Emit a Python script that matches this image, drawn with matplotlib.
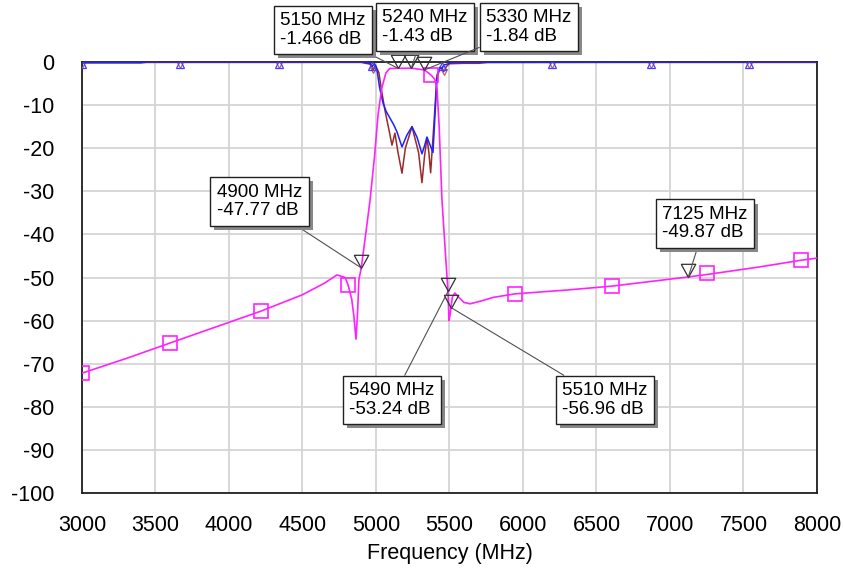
import matplotlib
matplotlib.use('Agg')
import matplotlib.pyplot as plt
import matplotlib.patheffects as pe

plt.rcParams['font.family'] = ['Liberation Sans', 'DejaVu Sans']
plt.rcParams['axes.unicode_minus'] = False

# --- data -------------------------------------------------------
# magenta trace (transmission)
f_mag = [3000, 3300, 3599, 3900, 4218, 4500, 4650, 4735, 4790, 4810, 4835, 4850,
         4864, 4875, 4884, 4900, 4930, 4960, 4990, 5015, 5040, 5068, 5095, 5150,
         5240, 5330, 5374, 5400, 5415, 5430, 5449, 5470, 5490, 5497, 5505, 5510,
         5520, 5537, 5560, 5600, 5640, 5700, 5800, 5946, 6300, 6605, 7125, 7252,
         7600, 7891, 8000]
db_mag = [-72.2, -68.8, -65.2, -61.6, -57.8, -54.0, -51.3, -49.4, -50.0, -51.7, -55.0, -59.0,
          -64.3, -58.0, -50.5, -47.77, -40.0, -32.0, -22.0, -12.0, -6.0, -2.5, -1.5, -1.466,
          -1.43, -1.84, -3.0, -4.0, -6.0, -15.0, -32.0, -43.0, -53.24, -60.0, -58.5, -56.96,
          -54.5, -53.6, -54.5, -55.8, -56.1, -55.6, -54.6, -53.8, -52.9, -52.0, -49.87, -49.3,
          -47.6, -46.0, -45.5]
f_mag_mk = [3000, 3599, 4218, 4810, 5374, 5946, 6605, 7252, 7891]
db_mag_mk = [-72.2, -65.2, -57.8, -51.7, -3.0, -53.8, -52.0, -49.0, -46.0]

# blue trace (input reflection)
f_blue = [3000, 3400, 3450, 4900, 4960, 4975, 4990, 5000, 5010, 5025, 5048, 5070,
          5095, 5120, 5143, 5177, 5210, 5245, 5280, 5313, 5330, 5347, 5365, 5388,
          5401, 5415, 5435, 5450, 5460, 5483, 5520, 8000]
db_blue = [-0.2, -0.2, 0.0, 0.0, -0.3, -1.0, -0.4, -1.0, -2.5, -6.0, -9.5, -11.5,
           -13.0, -14.5, -16.2, -19.7, -17.0, -15.0, -17.5, -21.3, -19.5, -17.4, -19.0, -21.0,
           -12.7, -4.0, -1.2, -1.6, -0.7, -0.5, -0.1, 0.0]
f_blue_mk = [3000, 3667, 4340, 4973, 5452, 6197, 6871, 7537]
db_blue_mk = [-0.5, -0.5, -0.5, -0.9, -1.0, -0.5, -0.5, -0.5]

# brown trace (output reflection)
f_brown = [3000, 4900, 4960, 4980, 5000, 5020, 5040, 5060, 5090, 5109, 5129, 5150,
           5177, 5200, 5245, 5290, 5313, 5330, 5347, 5360, 5372, 5395, 5415, 5440,
           5460, 5480, 5500, 5600, 5700, 5760, 8000]
db_brown = [-0.1, -0.1, -0.5, -1.8, -1.0, -2.5, -7.0, -11.0, -16.0, -19.3, -16.5, -21.0,
            -25.8, -20.0, -15.0, -21.0, -28.0, -22.0, -17.6, -21.0, -25.7, -14.0, -3.0, -1.2,
            -2.3, -1.0, -0.4, -0.3, -0.3, -0.1, -0.1]
f_brown_mk = [3000, 3667, 4340, 4980, 5460, 6197, 6871, 7537]
db_brown_mk = [-0.8, -0.8, -0.8, -1.8, -2.3, -0.8, -0.8, -0.8]

# marker readouts
mk_f = [5150, 5240, 5330, 4900, 5490, 5510, 7125]
mk_db = [-1.466, -1.43, -1.84, -47.77, -53.24, -56.96, -49.87]
mk_txt = ['5150 MHz\n-1.466 dB', '5240 MHz\n-1.43 dB', '5330 MHz\n-1.84 dB',
          '4900 MHz\n-47.77 dB', '5490 MHz\n-53.24 dB', '5510 MHz\n-56.96 dB',
          '7125 MHz\n-49.87 dB']
# box offsets from marker, in points
mk_off = [(-54, 27.6), (9.9, 29.7), (75.2, 30.9), (-73.4, 47.8),
          (-40.3, -78.1), (110.9, -66.6), (12.0, 38.4)]

x_ticks = [3000, 3500, 4000, 4500, 5000, 5500, 6000, 6500, 7000, 7500, 8000]
y_ticks = [0, -10, -20, -30, -40, -50, -60, -70, -80, -90, -100]

# --- figure -----------------------------------------------------
fig = plt.figure(figsize=(8.45, 5.72), dpi=100)
ax = fig.add_axes([0.0970, 0.1381, 0.8698, 0.7535])

ax.plot(f_brown, db_brown, color='#9a2a2a', lw=1.1, zorder=3)
ax.plot(f_brown_mk, db_brown_mk, ls='none', marker='v', ms=4.5, mfc='none',
        mec='#c06060', mew=0.9, zorder=3)
ax.plot(f_blue, db_blue, color='#2020ff', lw=1.1, zorder=4)
ax.plot(f_blue_mk, db_blue_mk, ls='none', marker='^', ms=6, mfc='none',
        mec='#4040ff', mew=0.9, zorder=4)
ax.plot(f_mag, db_mag, color='#ff22ff', lw=1.2, zorder=5)
ax.plot(f_mag_mk, db_mag_mk, ls='none', marker='s', ms=10, mfc='none',
        mec='#ff22ff', mew=1.2, zorder=5)

# readout triangles, apex on the point
tri = [(-0.55, 1.0), (0.55, 1.0), (0.0, 0.0), (-0.55, 1.0)]
ax.plot(mk_f, mk_db, ls='none', marker=tri, ms=19, mfc='none', mec='#303030',
        mew=0.9, zorder=6, clip_on=False)

for f, d, t, off in zip(mk_f, mk_db, mk_txt, mk_off):
    a = ax.annotate(t, xy=(f, d), xytext=off, textcoords='offset points',
                    ha='center', va='center', multialignment='left', fontsize=13.5,
                    linespacing=1.1,
                    bbox=dict(boxstyle='square,pad=0.35', fc='white', ec='#202020', lw=1.0),
                    arrowprops=dict(arrowstyle='-', color='#505050', lw=0.8,
                                    shrinkA=0, shrinkB=0),
                    zorder=7, annotation_clip=False)
    a.get_bbox_patch().set_path_effects([
        pe.SimplePatchShadow(offset=(3, -3), shadow_rgbFace='#888888', alpha=1.0),
        pe.Normal()])

ax.set_xlim(3000, 8000)
ax.set_ylim(-100, 0)
ax.set_xticks(x_ticks)
ax.set_yticks(y_ticks)
ax.grid(True, color='#d4d4d4', lw=1.3)
ax.set_axisbelow(True)
ax.tick_params(axis='both', length=0, labelsize=15.5)
ax.tick_params(axis='y', pad=20)
ax.tick_params(axis='x', pad=16)
for s in ax.spines.values():
    s.set_color('#202020')
    s.set_linewidth(1.3)
ax.set_xlabel('Frequency (MHz)', fontsize=15.5, labelpad=5)

fig.savefig('out.png', dpi=100)
